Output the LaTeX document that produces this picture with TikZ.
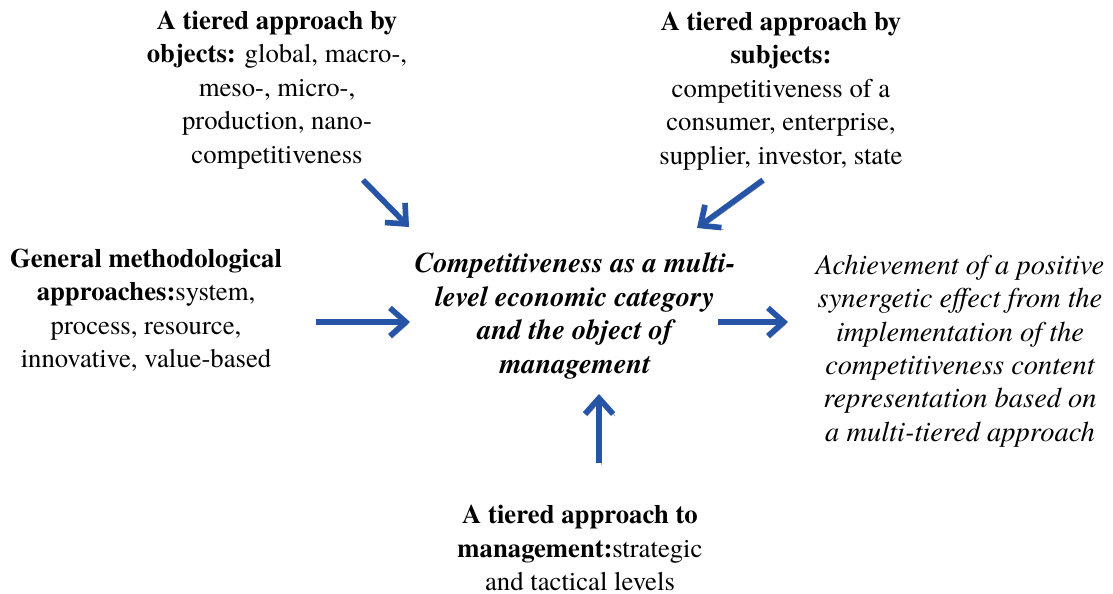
\documentclass[tikz,border=0pt]{standalone}
\usepackage{fontspec}
\setmainfont{texgyretermes}[Extension=.otf, UprightFont=*-regular, BoldFont=*-bold,
  ItalicFont=*-italic, BoldItalicFont=*-bolditalic]
\usepackage{tikz}
\usetikzlibrary{arrows.meta}
\definecolor{B}{RGB}{38, 84, 166}
\definecolor{S}{RGB}{160, 160, 160}
\tikzset{
  texto/.style={align=center, inner sep=0pt, font=\fontsize{15.2}{19}\selectfont},
  cursiva/.style={texto, font=\fontsize{16.2}{19}\selectfont\itshape},
  flecha/.style={line width=3.2pt, color=B, -{Straight Barb[length=9pt, width=16pt]},
    preaction={draw=S, transform canvas={xshift=1.2pt, yshift=-1.2pt}}}
}

\begin{document}
\begin{tikzpicture}[x=0.02cm, y=-0.02cm]
	\useasboundingbox (0,0) rectangle (1113,594);

	% Enfoques alrededor del concepto central
	\draw (277,90) node[texto] (objects) {\textbf{A tiered approach by}\\
		\textbf{objects:} global, macro-,\\ meso-, micro-,\\ production, nano-\\ competitiveness};
	\draw (781,91) node[texto] (subjects) {\textbf{A tiered approach by}\\ \textbf{subjects:}\\
		competitiveness of a\\ consumer, enterprise,\\ supplier, investor, state};
	\draw (146,310) node[texto] (methods) {\textbf{General methodological}\\
		\textbf{approaches:}system,\\ process, resource,\\ innovative, value-based};
	\draw (580,548) node[texto] (management) {\textbf{A tiered approach to}\\
		\textbf{management:}strategic\\ and tactical levels};

	% Concepto central y resultado
	\draw (575,316) node[cursiva, font=\fontsize{16.2}{19}\selectfont\bfseries\itshape] (core)
		{Competitiveness as a multi-\\ level economic category\\ and the object of\\ management};
	\draw (960,351) node[cursiva] (result)
		{Achievement of a positive\\ synergetic effect from the\\ implementation of the\\
		competitiveness content\\ representation based on\\ a multi-tiered approach};

	% Extremos de las flechas
	\coordinate (objA) at (363,180);  \coordinate (objB) at (409,227);
	\coordinate (subA) at (763,180);  \coordinate (subB) at (697,228);
	\coordinate (metA) at (316,322);  \coordinate (metB) at (410,322);
	\coordinate (resA) at (718,322);  \coordinate (resB) at (788,322);
	\coordinate (manA) at (599,463);  \coordinate (manB) at (599,394);

	% Flechas
	\draw[flecha] (objA) -- (objB);
	\draw[flecha] (subA) -- (subB);
	\draw[flecha] (metA) -- (metB);
	\draw[flecha] (resA) -- (resB);
	\draw[flecha] (manA) -- (manB);
\end{tikzpicture}
\end{document}
